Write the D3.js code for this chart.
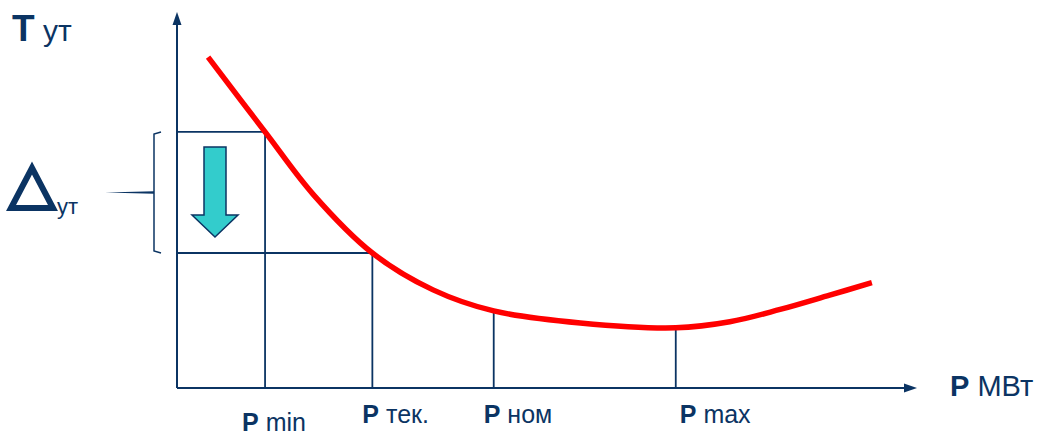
<!DOCTYPE html>
<html>
<head>
<meta charset="utf-8">
<script src="https://cdn.jsdelivr.net/npm/d3@7"></script>
<style>
  body { margin: 0; background: #fff; }
  text { font-family: "Liberation Sans", Arial, sans-serif; fill: #0b3463; }
</style>
</head>
<body>
<svg id="chart" width="1045" height="437"></svg>
<script>
// consumption curve (P, T), arbitrary units 0..100
const curveP = [4.2, 11.9, 18.4, 26.4, 34.6, 42.8, 54.5, 67.4, 74.7, 81.5, 88.2, 93.9];
const curveT = [88.0, 68.1, 51.5, 35.9, 26.1, 20.5, 17.3, 16.0, 17.6, 20.9, 24.7, 28.0];

// marked operating points
const markNames = ["min", "тек.", "ном", "max"];
const markP = [11.9, 26.4, 42.8, 67.4];
const markT = [68.1, 35.9, 20.2, 15.6];
const markLabelShift = [-23, -10, -10, 4];   // label start relative to line
const markLabelBase = [431, 423, 423, 423];

const color = "#0b3463";
const svg = d3.select("#chart");

const x = d3.scaleLinear().domain([0, 100]).range([177, 917]);
const y = d3.scaleLinear().domain([0, 100]).range([388, 12]);

const g = svg.append("g");

// axes
g.append("line")
  .attr("x1", x(0)).attr("x2", x(100) - 8)
  .attr("y1", y(0)).attr("y2", y(0))
  .attr("stroke", color).attr("stroke-width", 2);
g.append("path")
  .attr("d", `M${x(100)},${y(0)} L${x(100) - 13},${y(0) - 4.5} L${x(100) - 13},${y(0) + 4.5} Z`)
  .attr("fill", color);

g.append("line")
  .attr("x1", x(0)).attr("x2", x(0))
  .attr("y1", y(0)).attr("y2", y(100) + 8)
  .attr("stroke", color).attr("stroke-width", 2);
g.append("path")
  .attr("d", `M${x(0)},${y(100)} L${x(0) - 4.5},${y(100) + 13} L${x(0) + 4.5},${y(100) + 13} Z`)
  .attr("fill", color);

// guide lines
markP.forEach((p, i) => {
  g.append("line")
    .attr("x1", x(p)).attr("x2", x(p))
    .attr("y1", y(markT[i])).attr("y2", y(0))
    .attr("stroke", color).attr("stroke-width", 1.8);
  if (i < 2) {
    g.append("line")
      .attr("x1", x(0)).attr("x2", x(p))
      .attr("y1", y(markT[i])).attr("y2", y(markT[i]))
      .attr("stroke", color).attr("stroke-width", 1.8);
  }
  const t = g.append("text")
    .attr("x", x(p) + markLabelShift[i])
    .attr("y", markLabelBase[i])
    .style("font-size", "25px");
  t.append("tspan").attr("font-weight", "bold").text("P");
  t.append("tspan").text(" " + markNames[i]);
});

// red curve
const pts = curveP.map((p, i) => [p, curveT[i]]);
g.append("path")
  .datum(pts)
  .attr("fill", "none")
  .attr("stroke", "#ff0000")
  .attr("stroke-width", 5.5)
  .attr("d", d3.line().x(d => x(d[0])).y(d => y(d[1])).curve(d3.curveCatmullRom.alpha(0.5)));

// down arrow between T(min) and T(тек.)
const yTop = y(markT[0]), yBot = y(markT[1]);
const ax = 215;
g.append("path")
  .attr("d", `M${ax - 11},${yTop + 15} L${ax + 11},${yTop + 15} L${ax + 11},${yTop + 83}
    L${ax + 23},${yTop + 83} L${ax},${yTop + 105} L${ax - 23},${yTop + 83} L${ax - 11},${yTop + 83} Z`)
  .attr("fill", "#33cccc")
  .attr("stroke", color)
  .attr("stroke-width", 1.5);

// bracket for delta
const bx = 154, ym = (yTop + yBot) / 2;
g.append("path")
  .attr("d", `M${bx + 7},${yTop} L${bx},${yTop + 2} L${bx},${yBot - 2} L${bx + 7},${yBot}`)
  .attr("fill", "none").attr("stroke", color).attr("stroke-width", 1.5);
g.append("path")
  .attr("d", `M105,${ym} L${bx},${ym - 1.2} L${bx},${ym + 1.2} Z`)
  .attr("fill", color);

// labels
const ty = svg.append("text").attr("x", 12).attr("y", 41);
ty.append("tspan").attr("font-weight", "bold").style("font-size", "37px").text("T");
ty.append("tspan").style("font-size", "30px").text(" ут");

const px = svg.append("text").attr("x", 950).attr("y", 396).style("font-size", "29px");
px.append("tspan").attr("font-weight", "bold").text("P");
px.append("tspan").text(" МВт");

// delta as a thick triangle
svg.append("path")
  .attr("d", "M32,168 L53,208 L11,208 Z")
  .attr("fill", "none")
  .attr("stroke", color)
  .attr("stroke-width", 6)
  .attr("stroke-linejoin", "miter");
svg.append("text").attr("x", 57).attr("y", 214).style("font-size", "22px").text("ут");
</script>
</body>
</html>
